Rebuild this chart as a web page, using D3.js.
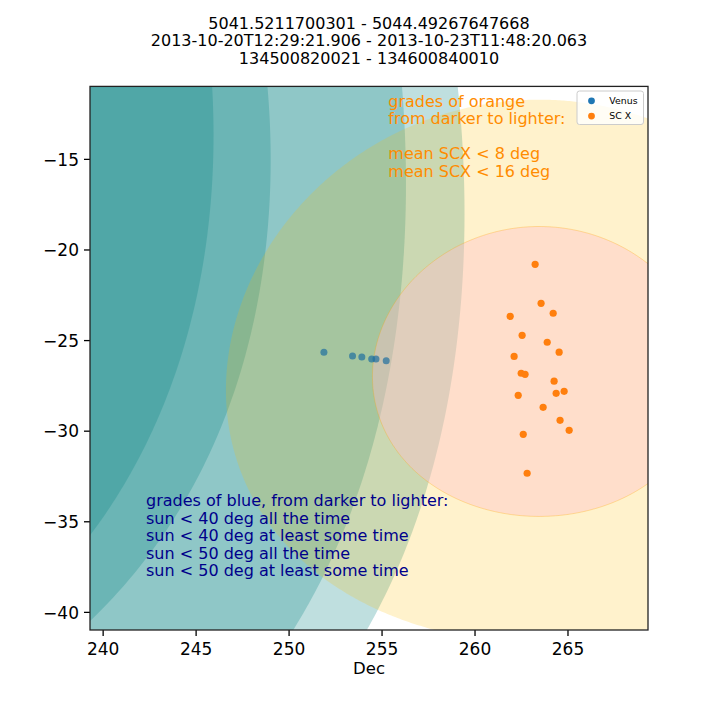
<!DOCTYPE html>
<html><head><meta charset="utf-8">
<script src="https://cdn.jsdelivr.net/npm/d3@7"></script>
<style>body{margin:0;background:#fff} svg{font-family:"DejaVu Sans",sans-serif}</style>
</head><body><svg id="c" width="720" height="720"></svg>
<script>
// ---- data ----
const titleLines = ["5041.5211700301 - 5044.49267647668",
                    "2013-10-20T12:29:21.906 - 2013-10-23T11:48:20.063",
                    "134500820021 - 134600840010"];
const venusRA  = [251.90, 253.44, 253.94, 254.47, 254.70, 255.25];
const venusDec = [-25.67, -25.88, -25.93, -26.04, -26.04, -26.14];
const scxRA  = [263.26, 263.58, 264.23, 261.92, 262.56, 263.91, 264.55, 262.13, 262.51, 262.72,
                264.28, 264.82, 264.39, 262.35, 263.69, 264.60, 265.09, 262.62, 262.83];
const scxDec = [-20.82, -22.97, -23.52, -23.69, -24.74, -25.12, -25.67, -25.90, -26.83, -26.89,
                -27.27, -27.83, -27.94, -28.05, -28.71, -29.43, -29.98, -30.20, -32.35];
const sunStart = [205.15, -10.44];
const sunEnd   = [208.05, -11.47];
const sunRadii = [40, 50];
const scxRadii = [8, 15];
const xTicks = [240, 245, 250, 255, 260, 265];
const yTicks = [-15, -20, -25, -30, -35, -40];
const xDomain = [239.32, 269.33];
const yDomain = [-41, -11];
const blueText = ["grades of blue, from darker to lighter:",
                  "sun < 40 deg all the time",
                  "sun < 40 deg at least some time",
                  "sun < 50 deg all the time",
                  "sun < 50 deg at least some time"];
const orangeText = ["grades of orange", "from darker to lighter:", "",
                    "mean SCX < 8 deg", "mean SCX < 16 deg"];
const legendLabels = ["Venus", "SC X"];
const xLabel = "Dec";

// ---- layout ----
const L = 90, R = 648, T = 86.4, B = 630;
const svg = d3.select("#c");
const x = d3.scaleLinear().domain(xDomain).range([L, R]);
const y = d3.scaleLinear().domain(yDomain).range([B, T]);

function ringPath(center, r) {
  const g = d3.geoCircle().center(center).radius(r).precision(0.4)();
  const ring = g.coordinates[0];
  return "M" + ring.map(([lon, lat]) => {
    const ra = lon < 0 ? lon + 360 : lon;
    return x(ra).toFixed(2) + "," + y(lat).toFixed(2);
  }).join("L") + "Z";
}

const defs = svg.append("defs");
defs.append("clipPath").attr("id", "plot").append("rect")
  .attr("x", L).attr("y", T).attr("width", R - L).attr("height", B - T);

const plot = svg.append("g").attr("clip-path", "url(#plot)");

// sun regions
sunRadii.forEach((r, i) => {
  defs.append("clipPath").attr("id", "sunEnd" + i).append("path").attr("d", ringPath(sunEnd, r));
  // all the time: intersection
  plot.append("path").attr("d", ringPath(sunStart, r))
    .attr("clip-path", "url(#sunEnd" + i + ")")
    .attr("fill", "rgb(0,128,128)").attr("fill-opacity", 0.25);
  // at least some time: union
  plot.append("path").attr("d", ringPath(sunStart, r) + ringPath(sunEnd, r))
    .attr("fill-rule", "nonzero")
    .attr("fill", "rgb(0,128,128)").attr("fill-opacity", 0.25);
});

// SCX regions
const scxCenter = [d3.mean(scxRA), d3.mean(scxDec)];
plot.append("path").attr("d", ringPath(scxCenter, scxRadii[1]))
  .attr("fill", "rgb(255,190,0)").attr("fill-opacity", 0.2);
plot.append("path").attr("d", ringPath(scxCenter, scxRadii[0]))
  .attr("fill", "pink").attr("fill-opacity", 0.4)
  .attr("stroke", "orange").attr("stroke-opacity", 0.3).attr("stroke-width", 1);

// points
plot.selectAll(".v").data(venusRA).join("circle")
  .attr("cx", d => x(d)).attr("cy", (d, i) => y(venusDec[i])).attr("r", 3.5)
  .attr("fill", "#1f6f9f").attr("fill-opacity", 0.7);
plot.selectAll(".s").data(scxRA).join("circle")
  .attr("cx", d => x(d)).attr("cy", (d, i) => y(scxDec[i])).attr("r", 3.6)
  .attr("fill", "#ff7f0e");

// annotations
const bt = svg.append("text").attr("font-size", 16).attr("fill", "#00008b");
blueText.forEach((t, i) => bt.append("tspan").attr("x", 146).attr("y", 506 + i * 17.5).text(t));
const ot = svg.append("text").attr("font-size", 16).attr("fill", "#ff8c00");
orangeText.forEach((t, i) => ot.append("tspan").attr("x", 388.3).attr("y", 106.7 + i * 17.5).text(t));

// axes
const xa = svg.append("g").attr("transform", `translate(0,${B})`)
  .call(d3.axisBottom(x).tickValues(xTicks).tickSize(6).tickSizeOuter(0).tickFormat(d3.format("d")));
xa.select(".domain").remove();
xa.selectAll("text").attr("font-size", 17).attr("font-family", "DejaVu Sans")
  .attr("fill", "#000").attr("y", 24.5).attr("dy", null);
xa.selectAll("line").attr("stroke", "#000").attr("stroke-width", 1.3);

const ya = svg.append("g").attr("transform", `translate(${L},0)`)
  .call(d3.axisLeft(y).tickValues(yTicks).tickSize(6).tickSizeOuter(0).tickFormat(d3.format("d")));
ya.select(".domain").remove();
ya.selectAll("text").attr("font-size", 17).attr("font-family", "DejaVu Sans")
  .attr("fill", "#000").attr("x", -11).attr("dy", "0.36em");
ya.selectAll("line").attr("stroke", "#000").attr("stroke-width", 1.3);

svg.append("rect").attr("x", L).attr("y", T).attr("width", R - L).attr("height", B - T)
  .attr("fill", "none").attr("stroke", "#222").attr("stroke-width", 1.3);

svg.append("text").attr("x", (L + R) / 2).attr("y", 674.3).attr("text-anchor", "middle")
  .attr("font-size", 16.5).text(xLabel);

// title
titleLines.forEach((t, i) => svg.append("text").attr("x", (L + R) / 2).attr("y", 28.5 + i * 17.8)
  .attr("text-anchor", "middle").attr("font-size", 16).text(t));

// legend
const lg = svg.append("g");
lg.append("rect").attr("x", 577).attr("y", 91).attr("width", 66.5).attr("height", 33.5).attr("rx", 2.5)
  .attr("fill", "#fff").attr("fill-opacity", 0.8).attr("stroke", "#cccccc").attr("stroke-width", 1);
const legColors = ["#1f77b4", "#ff7f0e"];
legendLabels.forEach((lab, i) => {
  lg.append("circle").attr("cx", 591.5).attr("cy", 100.8 + i * 15.3).attr("r", 3.4).attr("fill", legColors[i]);
  lg.append("text").attr("x", 609.3).attr("y", 104 + i * 15.3).attr("font-size", 9.4).text(lab);
});
</script></body></html>
